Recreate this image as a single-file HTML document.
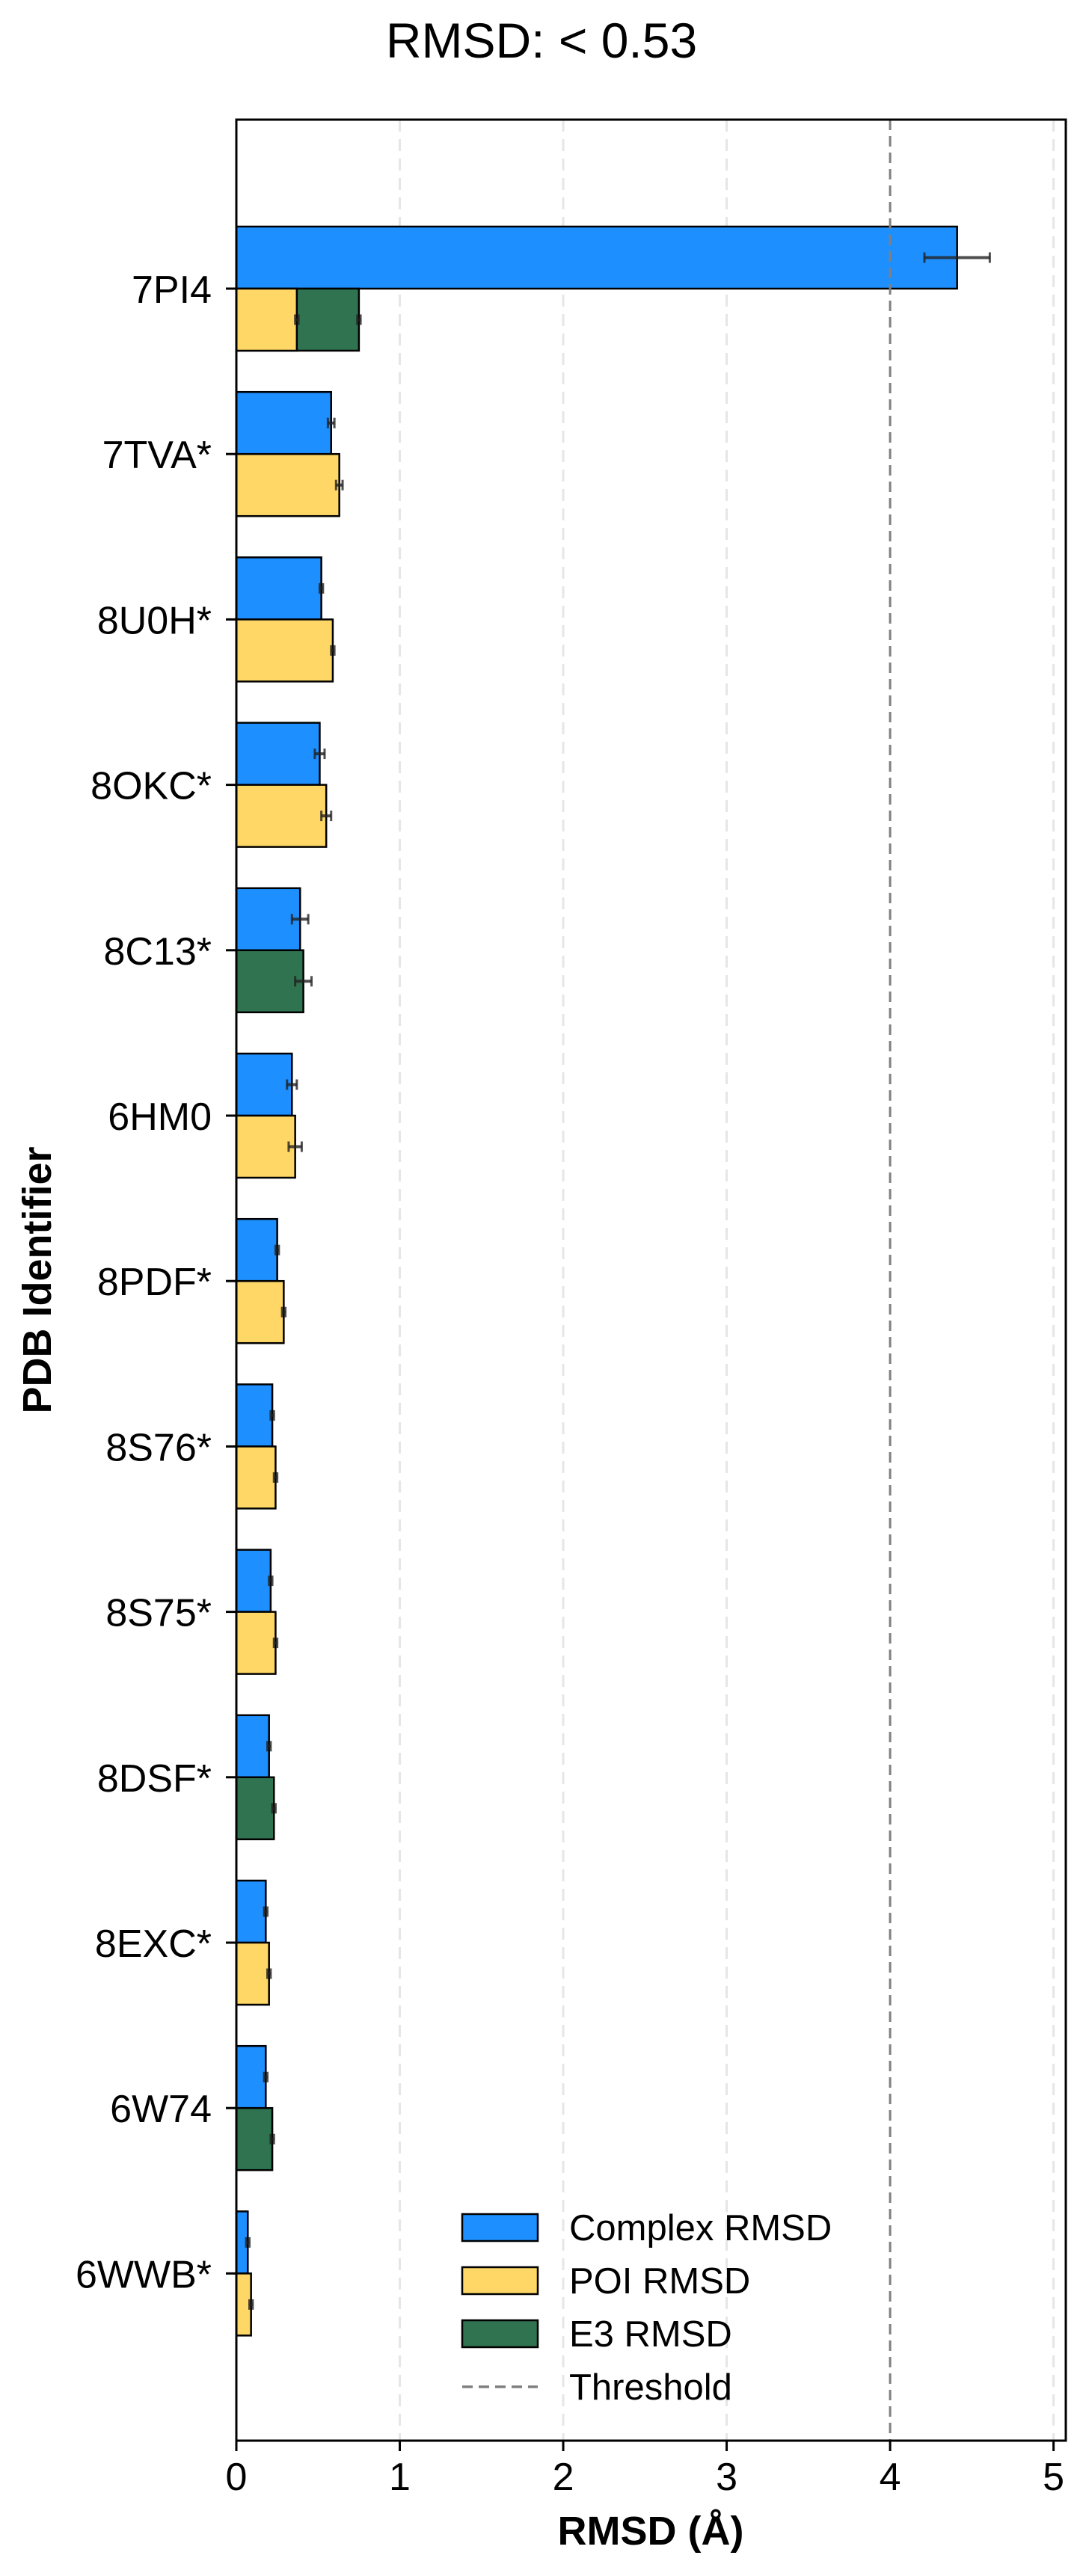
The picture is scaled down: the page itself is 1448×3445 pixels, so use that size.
<!DOCTYPE html>
<html><head><meta charset="utf-8"><style>
html,body{margin:0;padding:0;background:#fff;}
svg{display:block;font-family:"Liberation Sans",Arial,sans-serif;}
</style></head><body>
<svg id="chart" width="1448" height="3445" viewBox="0 0 1448 3445" xmlns="http://www.w3.org/2000/svg">
<text x="724" y="77" font-size="66" text-anchor="middle">RMSD: &lt; 0.53</text>
<g id="grid"></g>
<g id="bars"></g>
<g id="axes"></g>
<text x="870" y="3403" font-size="54" font-weight="bold" text-anchor="middle">RMSD (Å)</text>
<text transform="translate(68,1712) rotate(-90)" font-size="54" font-weight="bold" text-anchor="middle">PDB Identifier</text>
<g id="legend"></g>
</svg>
<script>
const categories = ["7PI4","7TVA*","8U0H*","8OKC*","8C13*","6HM0","8PDF*","8S76*","8S75*","8DSF*","8EXC*","6W74","6WWB*"];
const complexVals = [4.41,0.58,0.52,0.51,0.39,0.34,0.25,0.22,0.21,0.20,0.18,0.18,0.07];
const complexErr  = [0.20,0.02,0.01,0.03,0.05,0.03,0.01,0.01,0.01,0.01,0.01,0.01,0.01];
const poiVals = [0.37,0.63,0.59,0.55,null,0.36,0.29,0.24,0.24,null,0.20,null,0.09];
const poiErr  = [0.01,0.02,0.01,0.03,null,0.04,0.01,0.01,0.01,null,0.01,null,0.01];
const e3Vals = [0.75,null,null,null,0.41,null,null,null,null,0.23,null,0.22,null];
const e3Err  = [0.01,null,null,null,0.05,null,null,null,null,0.01,null,0.01,null];
const xTicks = [0,1,2,3,4,5];
const threshold = 4;

const NS="http://www.w3.org/2000/svg";
const L=316,R=1425,T=160,B=3264,X0=0,X1=5.075;
const xs=v=>L+(v-X0)/(X1-X0)*(R-L);
const rowY=i=>386+i*221.2;
const BH=83;
function mk(tag,attrs,parent){const e=document.createElementNS(NS,tag);for(const k in attrs)e.setAttribute(k,attrs[k]);parent.appendChild(e);return e;}
const grid=document.getElementById('grid'),bars=document.getElementById('bars'),axes=document.getElementById('axes'),legend=document.getElementById('legend');

xTicks.forEach(t=>{
  if(t===0||t===threshold) return;
  const g=mk('line',{x1:xs(t),x2:xs(t),y1:T,y2:B,stroke:'#e6e6e6','stroke-width':3,'stroke-dasharray':'16,10'},grid);
  
  
});

function bar(v,err,y,color,name){
  if(v===null) return;
  const r=mk('rect',{x:xs(0),y:y,width:xs(v)-xs(0),height:BH,fill:color,stroke:'#000','stroke-width':2.5},bars);
  
  
}
function ebar(v,err,y,name){
  if(v===null) return;
  const cy=y+BH/2,g=mk('g',{stroke:'#222','stroke-opacity':0.8,'stroke-width':4},bars);
  
  
  mk('line',{x1:xs(v-err),x2:xs(v+err),y1:cy,y2:cy},g);
  mk('line',{x1:xs(v-err),x2:xs(v-err),y1:cy-7,y2:cy+7,'stroke-width':3},g);
  mk('line',{x1:xs(v+err),x2:xs(v+err),y1:cy-7,y2:cy+7,'stroke-width':3},g);
}
categories.forEach((c,i)=>{
  const y=rowY(i);
  bar(complexVals[i],complexErr[i],y-BH,'#1e8fff','complex-bar');
  bar(e3Vals[i],e3Err[i],y,'#2f7350','e3-bar');
  bar(poiVals[i],poiErr[i],y,'#fed766','poi-bar');
  ebar(complexVals[i],complexErr[i],y-BH,'complex-error');
  ebar(poiVals[i],poiErr[i],y,'poi-error');
  ebar(e3Vals[i],e3Err[i],y,'e3-error');
  const tk=mk('line',{x1:L-14,x2:L,y1:y,y2:y,stroke:'#000','stroke-width':3},axes);
  
  
  const tl=mk('text',{x:283,y:y+19,'font-size':52,'text-anchor':'end'},axes);
  tl.textContent=c;
  
  
});

const th=mk('line',{x1:xs(threshold),x2:xs(threshold),y1:T,y2:B,stroke:'#808080','stroke-width':3,'stroke-dasharray':'14,8'},bars);



const frame=mk('rect',{x:L,y:T,width:R-L,height:B-T,fill:'none',stroke:'#000','stroke-width':3},axes);


xTicks.forEach(t=>{
  const tk=mk('line',{x1:xs(t),x2:xs(t),y1:B,y2:B+14,stroke:'#000','stroke-width':3},axes);
  
  
  const tl=mk('text',{x:xs(t),y:3330,'font-size':52,'text-anchor':'middle'},axes);
  tl.textContent=String(t);
  
  
});

const legItems=[['Complex RMSD','#1e8fff'],['POI RMSD','#fed766'],['E3 RMSD','#2f7350'],['Threshold',null]];
legItems.forEach((it,k)=>{
  const cy=2979+k*71;
  const g=mk('g',{},legend);
  
  
  if(it[1]) mk('rect',{x:618,y:cy-18,width:101,height:36,fill:it[1],stroke:'#000','stroke-width':2.5},g);
  else mk('line',{x1:618,x2:719,y1:cy,y2:cy,stroke:'#808080','stroke-width':3.5,'stroke-dasharray':'14,8'},g);
  const t=mk('text',{x:761,y:cy+17,'font-size':49},g);
  t.textContent=it[0];
});
</script>
</body></html>
